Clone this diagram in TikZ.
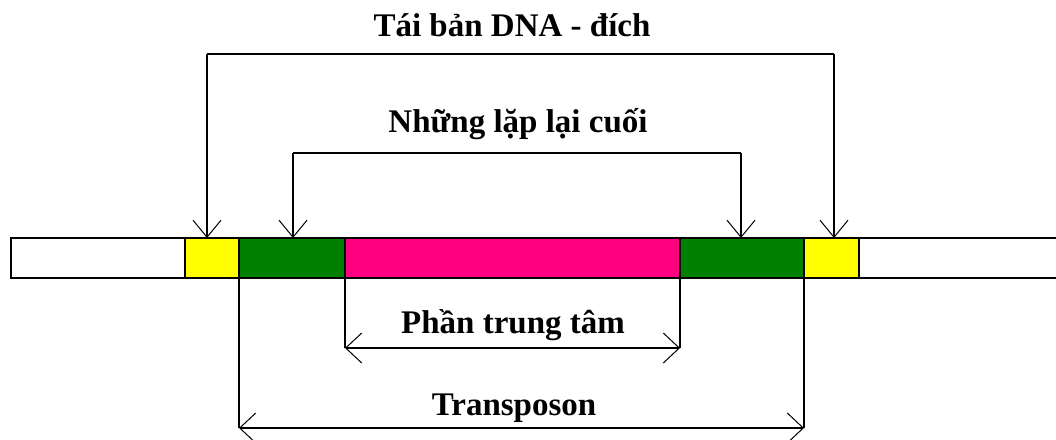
\documentclass[tikz,border=0pt]{standalone}
\usepackage{fontspec}
\setmainfont{Liberation Serif}
\usetikzlibrary{arrows.meta}
\definecolor{segyellow}{RGB}{255,255,0}
\definecolor{seggreen}{RGB}{0,128,0}
\definecolor{segpink}{RGB}{255,0,128}
\begin{document}
\begin{tikzpicture}[x=1pt,y=-1pt,
  seg/.style={draw=black, line width=2pt, inner sep=0pt, outer sep=0pt, minimum height=40pt, anchor=west},
  lbl/.style={font=\fontsize{33}{39}\selectfont\bfseries, inner sep=0pt, anchor=base},
  conn/.style={draw=black, line width=2pt},
  arr/.style={conn, -{Straight Barb[length=17pt,width=28pt,line width=1pt]}},
  darr/.style={conn, {Straight Barb[length=16pt,width=30pt,line width=1pt]}-{Straight Barb[length=16pt,width=30pt,line width=1pt]}}]
\useasboundingbox (0,0) rectangle (1056,439);
% bar segments
\node[seg, fill=white, minimum width=174pt] (w1) at (11,258) {};
\node[seg, fill=segyellow, minimum width=54pt] (y1) at (185,258) {};
\node[seg, fill=seggreen, minimum width=106pt] (g1) at (239,258) {};
\node[seg, fill=segpink, minimum width=335pt] (p) at (345,258) {};
\node[seg, fill=seggreen, minimum width=124pt] (g2) at (680,258) {};
\node[seg, fill=segyellow, minimum width=55pt] (y2) at (804,258) {};
\coordinate (rt) at (1058,238);
\coordinate (rb) at (1058,278);
\draw[conn] (y2.north east) -- (rt);
\draw[conn] (y2.south east) -- (rb);
% labels
\node[lbl] (tdna) at (512,36) {Tái bản DNA - đích};
\node[lbl] (lap) at (518,132) {Những lặp lại cuối};
\node[lbl] (tt) at (513,333) {Phần trung tâm};
\node[lbl] (tp) at (514,415) {Transposon};
% top connector: target DNA duplication
\coordinate (a1) at (207,54);
\coordinate (a2) at (834,54);
\draw[conn] (a1) -- (a2);
\draw[arr] (a1) -- (a1 |- y1.north);
\draw[arr] (a2) -- (a2 |- y2.north);
% terminal repeats
\coordinate (b1) at (293,153);
\coordinate (b2) at (741,153);
\draw[conn] (b1) -- (b2);
\draw[arr] (b1) -- (b1 |- g1.north);
\draw[arr] (b2) -- (b2 |- g2.north);
% central part
\coordinate (c1) at (345,348);
\coordinate (c2) at (680,348);
\draw[conn] (p.south west) -- (c1);
\draw[conn] (p.south east) -- (c2);
\draw[darr] (c1) -- (c2);
% transposon
\coordinate (d1) at (239,428);
\coordinate (d2) at (804,428);
\draw[conn] (g1.south west) -- (d1);
\draw[conn] (g2.south east) -- (d2);
\draw[darr] (d1) -- (d2);
\end{tikzpicture}
\end{document}
